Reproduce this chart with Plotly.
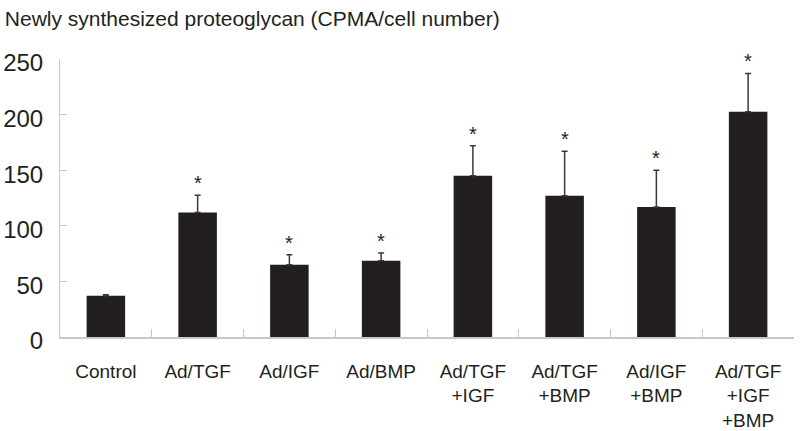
import plotly.graph_objects as go

categories = ["Control", "Ad/TGF", "Ad/IGF", "Ad/BMP", "Ad/TGF<br>+IGF",
              "Ad/TGF<br>+BMP", "Ad/IGF<br>+BMP", "Ad/TGF<br>+IGF<br>+BMP"]
values = [37, 112, 65, 68.5, 145, 127, 117, 202.5]
errors = [1, 15.5, 9, 7, 27, 40, 33, 34.5]
significant = [False, True, True, True, True, True, True, True]
y_ticks = [0, 50, 100, 150, 200, 250]

FONT = "Liberation Sans, Arial, sans-serif"
DARK = "#231f20"
GRID = "#c8c8c8"

fig = go.Figure()
fig.add_trace(go.Bar(
    x=categories, y=values, width=0.42,
    marker=dict(color=DARK, line=dict(width=0)),
    error_y=dict(type="data", array=errors, arrayminus=[0] * len(errors),
                 symmetric=False, color="#3a3a3a", thickness=1.5, width=3),
    showlegend=False, hoverinfo="skip",
))

for c, v, e, s in zip(categories, values, errors, significant):
    if s:
        fig.add_annotation(x=c, y=v + e, text="*", showarrow=False,
                           yanchor="bottom", yshift=-1,
                           font=dict(family=FONT, size=20, color=DARK))

fig.update_layout(
    width=800, height=431,
    margin=dict(l=60, r=6, t=59, b=94),
    plot_bgcolor="white", paper_bgcolor="white",
    font=dict(family=FONT, color=DARK),
    title=dict(text="Newly synthesized proteoglycan (CPMA/cell number)",
               xref="container", yref="container", x=0.006, y=0.956,
               xanchor="left", yanchor="middle", pad=dict(l=0, r=0, t=0, b=0),
               font=dict(family=FONT, size=21, color=DARK)),
    bargap=0.58,
)
fig.update_xaxes(
    type="category", range=[-0.5, 7.5], automargin=False,
    showline=True, linecolor=GRID, linewidth=1.5,
    ticks="inside", tickson="boundaries", ticklen=8, tickcolor=GRID, tickwidth=1,
    tickfont=dict(family=FONT, size=19, color=DARK),
    ticklabelstandoff=16, showgrid=False,
)
fig.update_yaxes(
    range=[0, 250], tickvals=y_ticks, automargin=False,
    showline=True, linecolor=GRID, linewidth=1,
    ticks="inside", ticklen=7, tickcolor=GRID, tickwidth=1,
    tickfont=dict(family=FONT, size=24, color=DARK),
    ticklabelstandoff=11, ticklabelshift=4, showgrid=False, zeroline=False,
)

fig.write_html("out.html",
               config={"displayModeBar": False},
               post_script="document.body.style.margin='0';"
                           "document.body.style.overflow='hidden';")
